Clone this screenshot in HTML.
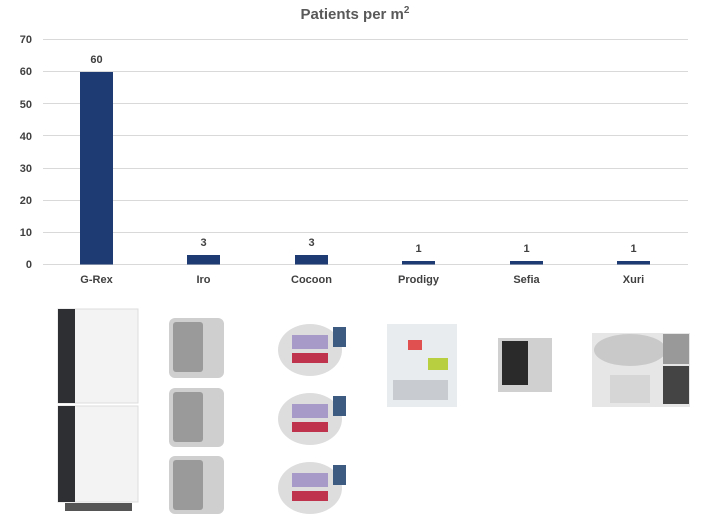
<!DOCTYPE html>
<html><head><style>
body{margin:0;background:#fff;width:710px;height:525px;overflow:hidden;font-family:"Liberation Sans",sans-serif}
</style></head><body>
<svg width="710" height="525" xmlns="http://www.w3.org/2000/svg" font-family="Liberation Sans, sans-serif">
<text x="355" y="19" text-anchor="middle" font-size="15" font-weight="bold" fill="#595959">Patients per m<tspan font-size="10" dy="-6">2</tspan></text>
<g stroke="#d9d9d9" stroke-width="1">
<line x1="43" x2="688" y1="39.5" y2="39.5"/><line x1="43" x2="688" y1="71.5" y2="71.5"/>
<line x1="43" x2="688" y1="103.5" y2="103.5"/><line x1="43" x2="688" y1="135.5" y2="135.5"/>
<line x1="43" x2="688" y1="168.5" y2="168.5"/><line x1="43" x2="688" y1="200.5" y2="200.5"/>
<line x1="43" x2="688" y1="232.5" y2="232.5"/><line x1="43" x2="688" y1="264.5" y2="264.5"/>
</g>
<g font-size="11" font-weight="bold" fill="#404040" text-anchor="end">
<text x="32" y="43">70</text><text x="32" y="75">60</text><text x="32" y="108">50</text><text x="32" y="140">40</text>
<text x="32" y="172">30</text><text x="32" y="204">20</text><text x="32" y="236">10</text><text x="32" y="268">0</text>
</g>
<g fill="#1f3b73">
<rect x="80" y="72" width="33" height="192.5"/>
<rect x="187" y="255" width="33" height="9.5"/>
<rect x="295" y="255" width="33" height="9.5"/>
<rect x="402" y="261" width="33" height="3.5"/>
<rect x="510" y="261" width="33" height="3.5"/>
<rect x="617" y="261" width="33" height="3.5"/>
</g>
<g font-size="11" font-weight="bold" fill="#404040" text-anchor="middle">
<text x="96.5" y="63">60</text><text x="203.5" y="246">3</text><text x="311.5" y="246">3</text>
<text x="418.5" y="252">1</text><text x="526.5" y="252">1</text><text x="633.5" y="252">1</text>
<text x="96.5" y="283">G-Rex</text><text x="203.5" y="283">Iro</text><text x="311.5" y="283">Cocoon</text>
<text x="418.5" y="283">Prodigy</text><text x="526.5" y="283">Sefia</text><text x="633.5" y="283">Xuri</text>
</g>
<!-- G-Rex -->
<g><rect x="58" y="309" width="80" height="94" fill="#f3f3f3" stroke="#ddd"/><rect x="58" y="309" width="17" height="94" fill="#2e2f33"/>
<rect x="58" y="406" width="80" height="96" fill="#f3f3f3" stroke="#ddd"/><rect x="58" y="406" width="17" height="96" fill="#2e2f33"/>
<rect x="65" y="503" width="67" height="8" fill="#555"/></g>
<!-- Iro -->
<g fill="#cfcfcf"><rect x="169" y="318" width="55" height="60" rx="6"/><rect x="169" y="388" width="55" height="59" rx="6"/><rect x="169" y="456" width="55" height="58" rx="6"/></g>
<g fill="#9a9a9a"><rect x="173" y="322" width="30" height="50" rx="3"/><rect x="173" y="392" width="30" height="50" rx="3"/><rect x="173" y="460" width="30" height="50" rx="3"/></g>
<!-- Cocoon -->
<g><ellipse cx="310" cy="350" rx="32" ry="26" fill="#ddd"/><rect x="292" y="335" width="36" height="14" fill="#a89ac8"/><rect x="292" y="353" width="36" height="10" fill="#c0334d"/><rect x="333" y="327" width="13" height="20" fill="#3d5a80"/>
<ellipse cx="310" cy="419" rx="32" ry="26" fill="#ddd"/><rect x="292" y="404" width="36" height="14" fill="#a89ac8"/><rect x="292" y="422" width="36" height="10" fill="#c0334d"/><rect x="333" y="396" width="13" height="20" fill="#3d5a80"/>
<ellipse cx="310" cy="488" rx="32" ry="26" fill="#ddd"/><rect x="292" y="473" width="36" height="14" fill="#a89ac8"/><rect x="292" y="491" width="36" height="10" fill="#c0334d"/><rect x="333" y="465" width="13" height="20" fill="#3d5a80"/></g>
<!-- Prodigy -->
<rect x="387" y="324" width="70" height="83" fill="#e8ecef"/><rect x="408" y="340" width="14" height="10" fill="#e05050"/><rect x="428" y="358" width="20" height="12" fill="#b8d040"/><rect x="393" y="380" width="55" height="20" fill="#c8ccd0"/>
<!-- Sefia -->
<rect x="498" y="338" width="54" height="54" fill="#d0d0d0"/><rect x="502" y="341" width="26" height="44" fill="#2a2a2a"/>
<!-- Xuri -->
<rect x="592" y="333" width="98" height="74" fill="#e6e6e6"/><ellipse cx="630" cy="350" rx="36" ry="16" fill="#c9c9c9"/><rect x="663" y="334" width="26" height="30" fill="#999"/><rect x="663" y="366" width="26" height="38" fill="#444"/><rect x="610" y="375" width="40" height="28" fill="#d6d6d6"/>
</svg>
</body></html>
